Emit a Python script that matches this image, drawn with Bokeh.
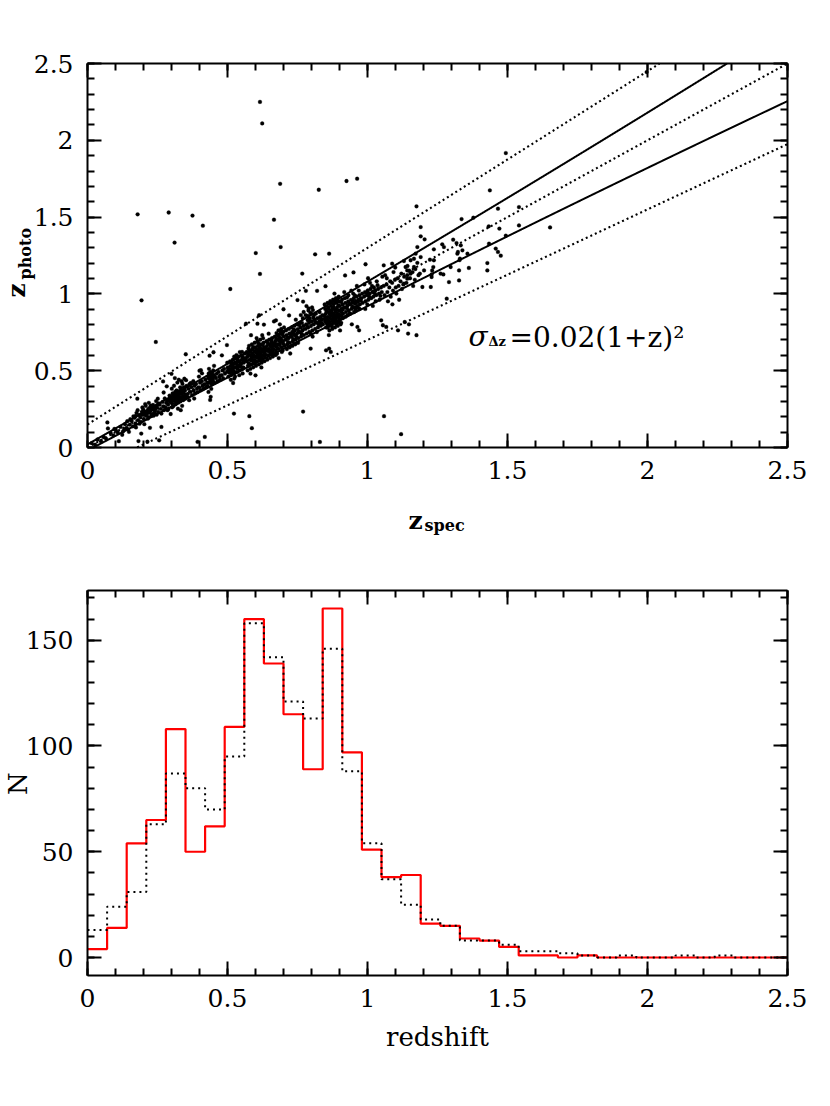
import numpy as np
from bokeh.plotting import figure
from bokeh.models import Range1d, LinearAxis, FixedTicker, Label, CustomJSTickFormatter
from bokeh.layouts import column
from bokeh.embed import file_html
from bokeh.resources import INLINE

FONT = "DejaVu Serif"

# ---------------- ticks ----------------
z_ticks = [0, 0.5, 1, 1.5, 2, 2.5]
z_minor = [0.0, 0.1, 0.2, 0.3, 0.4, 0.5, 0.6, 0.7, 0.8, 0.9, 1.0, 1.1, 1.2, 1.3,
           1.4, 1.5, 1.6, 1.7, 1.8, 1.9, 2.0, 2.1, 2.2, 2.3, 2.4, 2.5]
n_ticks = [0, 50, 100, 150]
n_minor = [0, 10, 20, 30, 40, 50, 60, 70, 80, 90, 100, 110, 120, 130, 140, 150, 160, 170]

# ---------------- histogram (bin width 0.07) ----------------
hist_bin_width = 0.07
hist_spec = [4, 14, 54, 65, 108, 50, 62, 109, 160, 139, 115, 89, 165, 97, 51, 38, 39, 16,
             15, 9, 8, 5, 1, 1, 0, 1, 0, 0, 0, 0, 0, 0, 0, 0, 0, 0]
hist_photo = [13, 24, 31, 63, 87, 80, 70, 95, 158, 142, 121, 113, 146, 88, 54, 37, 25, 18,
              15, 8, 8, 6, 3, 3, 2, 1, 0, 1, 0, 0, 1, 0, 1, 0, 0, 0]

# ---------------- scatter (z_spec, z_photo) ----------------
pts_000_014 = [(0.015,0.028),(0.027,0.019),(0.036,0.052),(0.048,0.041),(0.058,0.067),(0.066,0.058),(0.071,0.163),(0.073,0.124),(0.083,0.094),(0.092,0.079),(0.101,0.113),(0.108,0.098),(0.112,0.041),(0.118,0.134),(0.124,0.083),(0.131,0.119),(0.134,0.152),(0.139,0.128),(0.127,0.105),(0.096,0.121)]
pts_014_021 = [(0.142,0.171),(0.145,0.118),(0.151,0.149),(0.153,0.184),(0.148,0.102),(0.162,0.138),(0.158,0.172),(0.164,0.203),(0.171,0.157),(0.168,0.193),(0.175,0.226),(0.173,0.131),(0.181,0.178),(0.184,0.212),(0.179,0.243),(0.178,0.318),(0.182,0.042),(0.191,0.167),(0.188,0.198),(0.194,0.232),(0.196,0.261),(0.192,0.091),(0.201,0.186),(0.204,0.219),(0.199,0.248),(0.206,0.283),(0.203,0.152),(0.209,0.207),(0.212,0.236),(0.208,0.271),(0.214,0.038),(0.186,0.155),(0.197,0.212),(0.172,0.205)]
pts_021_028 = [(0.218,0.198),(0.221,0.231),(0.224,0.262),(0.219,0.291),(0.223,0.128),(0.231,0.219),(0.228,0.248),(0.234,0.277),(0.236,0.207),(0.241,0.238),(0.243,0.268),(0.239,0.223),(0.245,0.302),(0.252,0.232),(0.248,0.259),(0.254,0.287),(0.251,0.318),(0.256,0.047),(0.262,0.251),(0.258,0.279),(0.264,0.221),(0.264,0.134),(0.271,0.268),(0.268,0.297),(0.273,0.243),(0.272,0.358),(0.278,0.262),(0.281,0.291),(0.276,0.319),(0.283,0.398),(0.286,0.243),(0.233,0.254),(0.247,0.214)]
pts_028_035 = [(0.288,0.279),(0.291,0.307),(0.293,0.338),(0.296,0.296),(0.289,0.252),(0.302,0.288),(0.299,0.321),(0.304,0.352),(0.306,0.268),(0.301,0.383),(0.311,0.302),(0.308,0.329),(0.313,0.362),(0.315,0.281),(0.309,0.402),(0.319,0.311),(0.322,0.343),(0.318,0.371),(0.324,0.292),(0.321,0.423),(0.326,0.441),(0.331,0.322),(0.329,0.352),(0.334,0.381),(0.332,0.301),(0.336,0.432),(0.333,0.243),(0.341,0.331),(0.339,0.362),(0.344,0.392),(0.342,0.309),(0.346,0.448),(0.338,0.271),(0.351,0.342),(0.348,0.371),(0.353,0.401),(0.349,0.318),(0.352,0.438),(0.297,0.218),(0.312,0.452),(0.323,0.253),(0.316,0.336),(0.327,0.367),(0.343,0.356)]
pts_035_042 = [(0.358,0.349),(0.361,0.382),(0.364,0.412),(0.357,0.328),(0.368,0.362),(0.371,0.393),(0.373,0.341),(0.369,0.421),(0.379,0.371),(0.382,0.402),(0.384,0.352),(0.378,0.432),(0.391,0.383),(0.388,0.413),(0.393,0.361),(0.393,0.037),(0.399,0.391),(0.402,0.422),(0.404,0.372),(0.398,0.462),(0.411,0.401),(0.408,0.432),(0.413,0.382),(0.409,0.483),(0.418,0.412),(0.419,0.069),(0.381,0.319),(0.363,0.308)]
pts_042_049 = [(0.421,0.441),(0.423,0.392),(0.428,0.422),(0.431,0.452),(0.433,0.482),(0.429,0.401),(0.432,0.362),(0.434,0.512),(0.438,0.431),(0.441,0.462),(0.443,0.412),(0.439,0.492),(0.442,0.382),(0.440,0.330),(0.448,0.441),(0.451,0.472),(0.453,0.421),(0.449,0.502),(0.452,0.532),(0.459,0.452),(0.462,0.481),(0.464,0.432),(0.471,0.462),(0.468,0.492),(0.473,0.441),(0.479,0.471),(0.482,0.502),(0.484,0.452),(0.491,0.481),(0.488,0.512),(0.438,0.310),(0.436,0.598),(0.446,0.458)]
pts_049_056 = [(0.498,0.492),(0.501,0.521),(0.503,0.462),(0.499,0.552),(0.498,0.667),(0.508,0.502),(0.511,0.532),(0.513,0.472),(0.509,0.561),(0.512,0.441),(0.518,0.512),(0.521,0.542),(0.523,0.482),(0.519,0.572),(0.523,0.221),(0.528,0.521),(0.531,0.551),(0.533,0.492),(0.529,0.582),(0.532,0.602),(0.527,0.462),(0.538,0.532),(0.541,0.561),(0.543,0.502),(0.539,0.591),(0.542,0.471),(0.548,0.541),(0.551,0.572),(0.553,0.512),(0.549,0.601),(0.552,0.622),(0.558,0.552),(0.561,0.581),(0.557,0.521),(0.562,0.612),(0.524,0.592),(0.544,0.621),(0.554,0.482),(0.520,0.420),(0.524,0.449),(0.506,0.515),(0.535,0.515)]
pts_056_063 = [(0.568,0.561),(0.571,0.592),(0.573,0.532),(0.569,0.622),(0.572,0.502),(0.566,0.806),(0.578,0.571),(0.581,0.602),(0.583,0.541),(0.579,0.632),(0.582,0.512),(0.577,0.662),(0.578,0.204),(0.584,0.731),(0.588,0.582),(0.591,0.611),(0.593,0.551),(0.589,0.641),(0.592,0.522),(0.587,0.672),(0.587,0.126),(0.598,0.591),(0.601,0.621),(0.603,0.561),(0.599,0.652),(0.602,0.532),(0.597,0.682),(0.600,0.470),(0.607,0.806),(0.608,0.602),(0.611,0.631),(0.613,0.571),(0.609,0.662),(0.612,0.542),(0.607,0.692),(0.613,0.861),(0.618,0.612),(0.621,0.642),(0.623,0.581),(0.619,0.672),(0.622,0.552),(0.617,0.702),(0.621,0.521),(0.628,0.622),(0.631,0.652),(0.633,0.592),(0.629,0.682),(0.632,0.562),(0.627,0.712),(0.582,0.481),(0.604,0.712),(0.624,0.731),(0.595,0.628),(0.615,0.645),(0.585,0.595),(0.605,0.585)]
pts_063_070 = [(0.638,0.632),(0.641,0.661),(0.643,0.602),(0.639,0.692),(0.642,0.572),(0.648,0.641),(0.651,0.671),(0.653,0.612),(0.649,0.702),(0.652,0.582),(0.647,0.741),(0.658,0.652),(0.661,0.681),(0.663,0.621),(0.659,0.712),(0.662,0.592),(0.666,0.821),(0.668,0.661),(0.671,0.692),(0.673,0.632),(0.669,0.722),(0.672,0.602),(0.678,0.672),(0.681,0.702),(0.683,0.642),(0.679,0.732),(0.682,0.762),(0.677,0.612),(0.688,0.681),(0.691,0.712),(0.693,0.652),(0.689,0.742),(0.692,0.772),(0.687,0.802),(0.694,0.622),(0.698,0.692),(0.701,0.722),(0.703,0.661),(0.699,0.752),(0.702,0.782),(0.697,0.632),(0.683,0.582),(0.673,0.828),(0.656,0.676),(0.685,0.695)]
pts_070_077 = [(0.708,0.702),(0.711,0.731),(0.713,0.672),(0.709,0.762),(0.712,0.641),(0.718,0.712),(0.721,0.742),(0.723,0.681),(0.719,0.772),(0.722,0.652),(0.728,0.722),(0.731,0.752),(0.733,0.691),(0.729,0.782),(0.732,0.662),(0.738,0.732),(0.741,0.761),(0.743,0.702),(0.739,0.792),(0.742,0.672),(0.748,0.742),(0.751,0.771),(0.753,0.712),(0.749,0.802),(0.752,0.682),(0.758,0.752),(0.761,0.781),(0.763,0.722),(0.759,0.812),(0.762,0.862),(0.768,0.762),(0.771,0.791),(0.773,0.732),(0.769,0.842),(0.772,0.882),(0.744,0.832),(0.724,0.612),(0.735,0.745)]
pts_077_084 = [(0.778,0.772),(0.781,0.802),(0.783,0.742),(0.779,0.862),(0.782,0.921),(0.788,0.781),(0.791,0.812),(0.793,0.842),(0.789,0.892),(0.792,0.752),(0.797,0.644),(0.798,0.791),(0.801,0.822),(0.803,0.762),(0.799,0.872),(0.802,0.912),(0.804,0.722),(0.808,0.802),(0.811,0.832),(0.813,0.772),(0.809,0.862),(0.818,0.812),(0.821,0.842),(0.823,0.782),(0.819,0.752),(0.828,0.822),(0.831,0.851),(0.833,0.792),(0.829,0.882),(0.838,0.832),(0.841,0.802),(0.839,0.862),(0.797,0.742),(0.786,0.830)]
pts_084_091 = [(0.848,0.842),(0.851,0.871),(0.853,0.812),(0.849,0.902),(0.852,0.782),(0.847,0.931),(0.852,0.633),(0.858,0.851),(0.861,0.882),(0.863,0.821),(0.859,0.912),(0.862,0.792),(0.857,0.941),(0.864,0.762),(0.863,0.644),(0.868,0.862),(0.871,0.891),(0.873,0.832),(0.869,0.922),(0.872,0.802),(0.867,0.952),(0.874,0.772),(0.878,0.872),(0.881,0.901),(0.883,0.842),(0.879,0.932),(0.882,0.812),(0.877,0.962),(0.884,0.782),(0.888,0.881),(0.891,0.912),(0.893,0.852),(0.889,0.942),(0.892,0.822),(0.887,0.972),(0.894,0.792),(0.898,0.892),(0.901,0.921),(0.903,0.862),(0.899,0.952),(0.902,0.832),(0.897,0.982),(0.904,0.802),(0.908,0.902),(0.911,0.931),(0.913,0.872),(0.909,0.962),(0.912,0.842),(0.906,0.812),(0.882,1.002),(0.862,0.732),(0.902,0.762),(0.869,0.622),(0.875,0.905),(0.895,0.870),(0.865,0.870),(0.885,0.860)]
pts_091_098 = [(0.918,0.912),(0.921,0.941),(0.923,0.882),(0.919,0.972),(0.922,0.852),(0.917,1.012),(0.928,0.922),(0.931,0.951),(0.933,0.892),(0.929,0.862),(0.932,0.991),(0.938,0.932),(0.941,0.961),(0.943,0.902),(0.939,0.872),(0.942,1.021),(0.944,0.802),(0.948,0.941),(0.951,0.972),(0.953,0.912),(0.949,1.002),(0.952,0.882),(0.958,0.952),(0.961,0.982),(0.963,0.922),(0.959,0.892),(0.962,1.052),(0.964,0.785),(0.968,0.962),(0.971,0.992),(0.973,0.932),(0.969,1.022),(0.972,0.902),(0.978,0.972),(0.981,1.002),(0.983,0.942),(0.970,0.763)]
pts_098_105 = [(0.988,0.982),(0.991,1.012),(0.993,0.952),(0.989,1.062),(0.992,0.902),(0.998,0.992),(1.001,1.022),(1.003,0.962),(0.999,0.932),(1.002,1.102),(1.008,1.002),(1.011,1.032),(1.013,0.972),(1.009,1.072),(1.018,1.012),(1.021,0.982),(1.023,1.042),(1.019,0.922),(1.028,1.022),(1.031,0.992),(1.033,1.082),(1.029,0.952),(1.038,1.032),(1.041,1.002),(1.043,0.962),(1.048,1.042),(1.051,1.012),(1.049,0.828),(1.053,1.112)]
pts_105_120 = [(1.058,1.052),(1.061,0.992),(1.063,1.122),(1.055,0.796),(1.068,1.062),(1.071,1.012),(1.073,0.952),(1.067,0.785),(1.069,1.102),(1.078,1.042),(1.081,1.082),(1.083,0.982),(1.088,1.072),(1.091,1.022),(1.093,1.142),(1.089,0.932),(1.098,1.092),(1.101,1.042),(1.103,1.002),(1.099,1.172),(1.108,1.102),(1.111,1.052),(1.113,0.962),(1.109,0.763),(1.118,1.082),(1.121,1.132),(1.123,1.032),(1.133,0.817),(1.131,1.112),(1.128,1.062),(1.142,1.122),(1.139,1.072),(1.143,1.182),(1.148,0.802),(1.152,1.102),(1.149,1.152),(1.161,1.142),(1.163,1.052),(1.171,1.162),(1.169,1.092),(1.178,1.202),(1.182,1.122),(1.175,0.731),(1.145,0.742),(1.172,1.262),(1.190,1.240),(1.187,1.132),(1.196,1.045),(1.154,1.132),(1.142,1.099),(1.130,1.067),(1.166,1.175),(1.136,1.175),(1.154,1.219),(1.226,1.045)]
pts_120_170 = [(1.190,1.435),(1.190,1.375),(1.204,1.355),(1.178,1.305),(1.237,1.290),(1.267,1.323),(1.273,1.305),(1.306,1.353),(1.318,1.331),(1.333,1.316),(1.339,1.284),(1.323,1.273),(1.357,1.262),(1.330,1.230),(1.329,1.220),(1.297,1.175),(1.327,1.153),(1.362,1.169),(1.428,1.201),(1.428,1.153),(1.458,1.295),(1.466,1.273),(1.476,1.249),(1.434,1.327),(1.494,1.379),(1.471,1.425),(1.433,1.440),(1.541,1.446),(1.541,1.565),(1.466,1.555),(1.378,1.496),(1.336,1.487),(1.437,1.674),(1.494,1.917),(1.652,1.433),(1.223,1.223),(1.235,1.175),(1.229,1.127),(1.229,1.110),(1.271,1.127),(1.291,1.077),(1.327,1.088),(1.283,0.969),(1.202,1.153),(1.237,1.219),(1.231,1.153),(1.261,1.132),(1.321,1.262)]
pts_upper_edge = [(0.270,0.430),(0.300,0.480),(0.351,0.607),(0.400,0.500),(0.405,0.503),(0.450,0.620),(0.480,0.600),(0.630,0.800),(0.700,0.900),(0.720,0.860),(0.750,0.960),(0.770,0.950),(0.780,1.020),(0.820,1.020),(0.850,1.050),(0.920,1.120),(0.950,1.140),(0.993,1.193),(1.058,1.186),(1.088,1.197),(1.130,1.214),(1.142,1.153),(1.166,1.229),(0.905,0.893)]
pts_outliers = [(0.616,2.250),(0.624,2.110),(0.179,1.518),(0.290,1.530),(0.375,1.510),(0.412,1.444),(0.311,1.334),(0.193,0.958),(0.244,0.687),(0.688,1.717),(0.826,1.678),(0.925,1.735),(0.963,1.750),(0.666,1.483),(0.601,1.266),(0.690,1.305),(0.616,1.130),(0.813,1.258),(0.863,1.262),(0.767,1.132),(0.510,1.032),(1.175,1.570),(0.770,0.234),(1.059,0.204),(1.120,0.087),(0.830,0.036),(1.997,2.444)]
pts_dense_020_049 = [(0.285,0.301),(0.294,0.322),(0.303,0.311),(0.307,0.343),(0.314,0.319),(0.317,0.352),(0.325,0.331),(0.328,0.312),(0.335,0.348),(0.337,0.321),(0.345,0.372),(0.347,0.338),(0.302,0.262),(0.318,0.291),(0.331,0.392),(0.339,0.415),(0.205,0.232),(0.213,0.219),(0.217,0.252),(0.226,0.241),(0.229,0.209),(0.238,0.262),(0.242,0.251),(0.249,0.276),(0.226,0.272),(0.216,0.188),(0.433,0.462),(0.437,0.447),(0.444,0.476),(0.447,0.431),(0.455,0.461),(0.435,0.422)]
pts_dense_049_070 = [(0.502,0.505),(0.507,0.487),(0.514,0.548),(0.517,0.527),(0.522,0.498),(0.526,0.553),(0.534,0.538),(0.537,0.566),(0.545,0.552),(0.546,0.527),(0.553,0.591),(0.556,0.567),(0.515,0.492),(0.535,0.575),(0.566,0.578),(0.574,0.607),(0.576,0.548),(0.583,0.622),(0.586,0.567),(0.594,0.597),(0.596,0.571),(0.603,0.641),(0.606,0.612),(0.612,0.587),(0.614,0.621),(0.616,0.662),(0.619,0.597),(0.624,0.631),(0.626,0.667),(0.628,0.601),(0.631,0.637),(0.634,0.612),(0.591,0.655),(0.610,0.680),(0.575,0.645),(0.598,0.545),(0.620,0.565),(0.588,0.605),(0.636,0.648),(0.644,0.681),(0.646,0.627),(0.654,0.659),(0.657,0.697),(0.664,0.641),(0.667,0.676),(0.674,0.708),(0.676,0.652),(0.684,0.721),(0.686,0.667),(0.694,0.697),(0.696,0.737),(0.699,0.676),(0.664,0.605),(0.675,0.745),(0.690,0.760),(0.655,0.630)]
pts_dense_070_105 = [(0.714,0.717),(0.716,0.687),(0.726,0.737),(0.734,0.707),(0.737,0.767),(0.746,0.722),(0.754,0.752),(0.756,0.797),(0.764,0.742),(0.766,0.812),(0.784,0.792),(0.787,0.857),(0.794,0.822),(0.796,0.877),(0.806,0.847),(0.814,0.817),(0.816,0.872),(0.826,0.801),(0.834,0.842),(0.836,0.812),(0.790,0.905),(0.805,0.895),(0.846,0.857),(0.849,0.822),(0.854,0.887),(0.856,0.832),(0.857,0.802),(0.862,0.902),(0.866,0.842),(0.866,0.812),(0.869,0.882),(0.876,0.852),(0.876,0.822),(0.879,0.912),(0.886,0.832),(0.886,0.892),(0.889,0.802),(0.896,0.862),(0.896,0.927),(0.898,0.842),(0.906,0.882),(0.906,0.947),(0.909,0.852),(0.871,0.942),(0.884,0.952),(0.892,0.962),(0.858,0.780),(0.873,0.790),(0.898,0.815),(0.912,0.898),(0.926,0.907),(0.934,0.937),(0.936,0.872),(0.946,0.917),(0.947,0.957),(0.956,0.937),(0.957,0.902),(0.966,0.947),(0.976,0.957),(0.966,0.912),(0.927,0.978),(0.955,0.990),(0.996,1.007),(1.006,0.982),(1.016,1.052),(1.026,1.002),(1.036,1.057),(1.046,0.987)]

scatter_groups = [pts_000_014, pts_014_021, pts_021_028, pts_028_035, pts_035_042, pts_042_049,
                  pts_049_056, pts_056_063, pts_063_070, pts_070_077, pts_077_084, pts_084_091,
                  pts_091_098, pts_098_105, pts_105_120, pts_120_170, pts_upper_edge, pts_outliers,
                  pts_dense_020_049, pts_dense_049_070, pts_dense_070_105]

# relation curves drawn in the scatter panel
sigma_coef = 0.02       # sigma_dz = 0.02 (1+z)^2
outlier_limit = 0.15    # |dz| = 0.15 (1+z)

# ---------------- layout geometry (page pixels) ----------------
PAGE_W = 830
BOX_L, BOX_R = 87, 787
FIG1_H = 560
BOX1_T, BOX1_B = 63, 447
FIG2_H = 530
BOX2_T, BOX2_B = 30, 415          # local to second figure (page 590 .. 975)
Z_LO, Z_HI = 0.0, 2.5
N_LO, N_HI = -8.5, 173.5

sx = (Z_HI - Z_LO) / (BOX_R - BOX_L)
x_range = Range1d(Z_LO - BOX_L * sx, Z_LO + (PAGE_W - BOX_L) * sx)
sy1 = (Z_HI - Z_LO) / (BOX1_B - BOX1_T)
y1_range = Range1d(Z_LO - (FIG1_H - BOX1_B) * sy1, Z_LO + BOX1_B * sy1)
sy2 = (N_HI - N_LO) / (BOX2_B - BOX2_T)
y2_range = Range1d(N_LO - (FIG2_H - BOX2_B) * sy2, N_LO + BOX2_B * sy2)


def p1_xy(px, py):
    return (Z_LO + (px - BOX_L) * sx, Z_LO + (BOX1_B - py) * sy1)


def p2_xy(px, py):
    return (Z_LO + (px - BOX_L) * sx, N_LO + (BOX2_B - (py - FIG1_H)) * sy2)


def style_axis(ax, ticks, minor, labels, standoff):
    ax.ticker = FixedTicker(ticks=ticks, minor_ticks=minor)
    ax.axis_line_color = "black"
    ax.axis_line_width = 2
    ax.major_tick_in = 14
    ax.major_tick_out = 0
    ax.major_tick_line_width = 2
    ax.major_tick_line_color = "black"
    ax.minor_tick_in = 7
    ax.minor_tick_out = 0
    ax.minor_tick_line_width = 2
    ax.minor_tick_line_color = "black"
    ax.major_label_text_font = FONT
    ax.major_label_text_font_size = "25px"
    ax.major_label_text_color = "black"
    ax.major_label_standoff = standoff
    if labels:
        ax.formatter = CustomJSTickFormatter(code="return tick.toString()")
    else:
        ax.formatter = CustomJSTickFormatter(code="return ''")


def make_fig(height, y_range, y_lo, y_hi, yticks, yminor):
    p = figure(frame_width=PAGE_W, frame_height=height,
               x_range=x_range, y_range=y_range,
               x_axis_type=None, y_axis_type=None,
               output_backend="svg", toolbar_location=None,
               min_border_left=0, min_border_right=0,
               min_border_top=0, min_border_bottom=0)
    p.outline_line_color = None
    p.background_fill_color = "white"
    p.border_fill_color = "white"
    specs = (("below", y_lo, (Z_LO, Z_HI), z_ticks, z_minor, True, 13),
             ("above", y_hi, (Z_LO, Z_HI), z_ticks, z_minor, False, 4),
             ("left", Z_LO, (y_lo, y_hi), yticks, yminor, True, 14),
             ("right", Z_HI, (y_lo, y_hi), yticks, yminor, False, 4))
    for loc, fixed, bounds, t, m, lab, so in specs:
        ax = LinearAxis(fixed_location=fixed, bounds=bounds)
        style_axis(ax, t, m, lab, so)
        p.add_layout(ax, loc)
    return p


def add_label(p, xy, text, size, style="normal", align="left", angle=0.0):
    p.add_layout(Label(x=xy[0], y=xy[1], text=text, text_font=FONT,
                       text_font_size=size, text_font_style=style,
                       text_align=align, text_baseline="alphabetic", angle=angle,
                       text_color="black"))


def clipped_curve(xs, ys, lo, hi):
    m = (ys >= lo) & (ys <= hi)
    return xs[m], ys[m]

# ---------------- top panel ----------------
p1 = make_fig(FIG1_H, y1_range, Z_LO, Z_HI, z_ticks, z_minor)

z_line = np.linspace(Z_LO, Z_HI, 2001)
dot = dict(line_color="black", line_width=2.1, line_dash="2 3")
for curve in (z_line,
              z_line + outlier_limit * (1 + z_line),
              z_line - outlier_limit * (1 + z_line)):
    cx, cy = clipped_curve(z_line, curve, Z_LO, Z_HI)
    p1.line(cx, cy, **dot)
for curve in (z_line + sigma_coef * (1 + z_line) ** 2,
              z_line - sigma_coef * (1 + z_line) ** 2):
    cx, cy = clipped_curve(z_line, curve, Z_LO, Z_HI)
    p1.line(cx, cy, line_color="black", line_width=2)

z_spec = [pt[0] for g in scatter_groups for pt in g]
z_phot = [pt[1] for g in scatter_groups for pt in g]
p1.scatter(z_spec, z_phot, size=3.8, fill_color="black", line_color="black", line_width=0.3)

add_label(p1, p1_xy(16, 297), "z", "25px", "bold", angle=np.pi / 2)
add_label(p1, p1_xy(25, 279), "photo", "16px", "bold", angle=np.pi / 2)
add_label(p1, p1_xy(408, 520), "z", "25px", "bold")
add_label(p1, p1_xy(424, 525), "spec", "16px", "bold")
add_label(p1, p1_xy(468, 336), "σ", "28px", "italic")
add_label(p1, p1_xy(488, 341), "Δz", "13px", "bold")
add_label(p1, p1_xy(509, 337), "=0.02(1+z)²", "28px")

# ---------------- bottom panel ----------------
p2 = make_fig(FIG2_H, y2_range, N_LO, N_HI, n_ticks, n_minor)

edges = [min(i * hist_bin_width, Z_HI) for i in range(len(hist_spec) + 1)]
p2.step(edges, hist_spec + [hist_spec[-1]], mode="after", line_color="#ff0000", line_width=2.2)
p2.step(edges, hist_photo + [hist_photo[-1]], mode="after", line_color="black",
        line_width=2, line_dash="2 4")

add_label(p2, p2_xy(17, 783), "N", "26px", align="center", angle=np.pi / 2)
add_label(p2, p2_xy(437, 1036), "redshift", "26px", align="center")

layout = column(p1, p2)
open("out.html", "w").write(file_html(layout, INLINE))
